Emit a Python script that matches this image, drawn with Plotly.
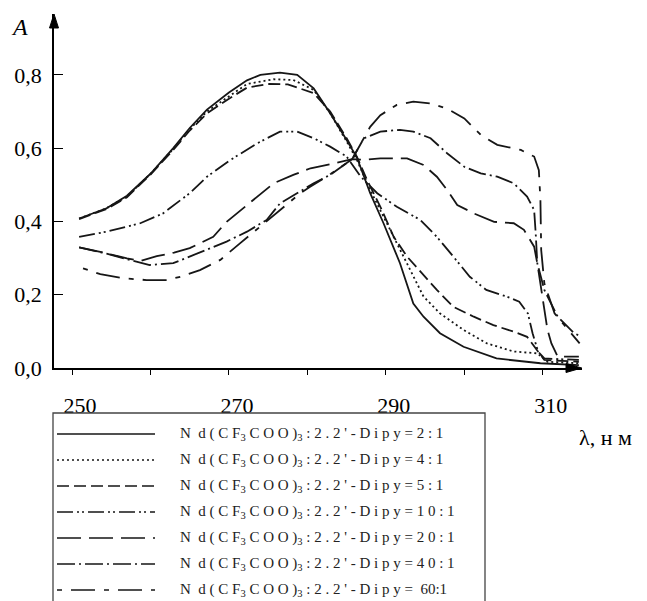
import plotly.graph_objects as go

# ---------------- data ----------------
lam_2 = [250.9, 254.4, 257.0, 260.0, 262.9, 265.0, 267.2, 270.0, 272.3, 274.0, 276.5, 278.7, 280.8,
         282.9, 285.0, 286.3, 288.0, 289.7, 291.8, 293.5, 294.8, 296.9, 299.9, 304.1, 309.7, 314.6]
A_2 = [0.408, 0.436, 0.470, 0.530, 0.600, 0.655, 0.705, 0.752, 0.785, 0.800, 0.806, 0.800, 0.763,
       0.695, 0.622, 0.575, 0.477, 0.395, 0.286, 0.176, 0.140, 0.095, 0.058, 0.026, 0.013, 0.008]

lam_4 = [250.9, 254.4, 257.0, 260.0, 262.9, 265.0, 267.2, 270.0, 272.3, 275.7, 278.2, 280.8, 282.9,
         285.0, 286.3, 288.0, 289.7, 291.4, 293.1, 294.8, 296.9, 299.9, 302.9, 306.3, 309.3, 310.6, 314.6]
A_4 = [0.408, 0.436, 0.468, 0.530, 0.598, 0.652, 0.700, 0.742, 0.775, 0.788, 0.786, 0.759, 0.695,
       0.618, 0.568, 0.486, 0.413, 0.340, 0.267, 0.195, 0.149, 0.104, 0.067, 0.045, 0.040, 0.017, 0.013]

lam_5 = [250.9, 254.4, 257.0, 260.0, 262.9, 265.0, 267.2, 270.0, 272.3, 275.0, 277.5, 280.8, 282.9,
         285.0, 286.3, 287.6, 289.3, 291.0, 292.7, 294.4, 296.5, 298.6, 301.2, 303.7, 306.3, 308.0,
         309.3, 310.2, 314.6]
A_5 = [0.406, 0.434, 0.466, 0.528, 0.595, 0.648, 0.695, 0.735, 0.765, 0.775, 0.774, 0.750, 0.700,
       0.627, 0.577, 0.513, 0.440, 0.358, 0.304, 0.263, 0.213, 0.167, 0.140, 0.117, 0.099, 0.085,
       0.049, 0.022, 0.017]

lam_10 = [250.9, 254.4, 258.7, 261.6, 265.0, 267.2, 270.2, 273.6, 276.5, 278.7, 280.8, 282.9, 285.0,
          286.8, 288.9, 291.4, 294.4, 296.5, 298.6, 300.7, 302.8, 305.4, 307.0, 308.1, 308.7, 309.4,
          310.2, 314.6]
A_10 = [0.358, 0.372, 0.395, 0.422, 0.477, 0.522, 0.568, 0.613, 0.645, 0.645, 0.627, 0.604, 0.577,
        0.522, 0.477, 0.440, 0.404, 0.358, 0.304, 0.249, 0.213, 0.195, 0.181, 0.149, 0.095, 0.045,
        0.026, 0.022]

lam_20 = [250.9, 254.4, 257.0, 258.7, 260.8, 263.0, 265.0, 268.0, 269.7, 272.3, 275.7, 278.2, 280.4,
          282.9, 285.7, 287.2, 289.3, 292.7, 294.8, 296.5, 297.8, 299.1, 301.2, 303.8, 306.3, 307.6,
          308.9, 309.3, 309.7, 310.2, 310.6, 311.1, 311.9, 314.6]
A_20 = [0.329, 0.313, 0.299, 0.292, 0.305, 0.315, 0.327, 0.358, 0.399, 0.445, 0.504, 0.527, 0.545,
        0.556, 0.570, 0.568, 0.572, 0.572, 0.554, 0.522, 0.486, 0.445, 0.422, 0.399, 0.395, 0.377,
        0.331, 0.286, 0.231, 0.158, 0.104, 0.067, 0.031, 0.031]

lam_40 = [250.9, 254.4, 257.0, 259.9, 262.9, 265.0, 267.2, 269.7, 272.3, 274.8, 276.5, 278.7, 280.8,
          282.9, 285.7, 287.2, 289.3, 291.8, 293.5, 295.7, 297.8, 300.0, 302.1, 304.2, 306.3, 308.0,
          308.9, 309.1, 309.3, 310.2, 311.9, 314.0, 314.7]
A_40 = [0.329, 0.312, 0.297, 0.281, 0.286, 0.304, 0.322, 0.345, 0.372, 0.404, 0.449, 0.477, 0.504,
        0.527, 0.570, 0.627, 0.645, 0.650, 0.645, 0.627, 0.586, 0.549, 0.531, 0.522, 0.504, 0.468,
        0.431, 0.367, 0.286, 0.213, 0.140, 0.095, 0.088]

lam_60 = [251.4, 253.6, 256.5, 259.5, 262.1, 263.8, 266.3, 268.9, 271.4, 274.0, 276.5, 279.1, 280.4,
          283.0, 285.7, 286.8, 288.0, 289.3, 291.4, 293.5, 295.7, 297.8, 300.0, 302.1, 304.2, 307.2,
          308.9, 309.5, 309.7, 309.8, 310.2, 311.5, 313.2, 314.7]
A_60 = [0.272, 0.256, 0.245, 0.240, 0.240, 0.249, 0.267, 0.295, 0.340, 0.386, 0.431, 0.477, 0.495,
        0.530, 0.570, 0.613, 0.658, 0.690, 0.718, 0.727, 0.722, 0.708, 0.681, 0.636, 0.609, 0.595,
        0.577, 0.540, 0.458, 0.322, 0.231, 0.149, 0.104, 0.067]

ratios = ["2:1", "4:1", "5:1", "10:1", "20:1", "40:1", "60:1"]
series_lam = [lam_2, lam_4, lam_5, lam_10, lam_20, lam_40, lam_60]
series_A = [A_2, A_4, A_5, A_10, A_20, A_40, A_60]

x_tickvals = [250, 260, 270, 280, 290, 300, 310]
x_ticktext = ["250", "", "270", "", "290", "", "310"]
y_tickvals = [0.0, 0.2, 0.4, 0.6, 0.8]
y_ticktext = ["0,0", "0,2", "0,4", "0,6", "0,8"]

# ---------------- styling ----------------
dashes = ["solid", "2px,3px", "12px,5px", "16px,4px,2px,3px,2px,4px",
          "24px,8px", "18px,4px,2px,4px", "5px,9px,24px,9px"]
LINE_COLOR = "#161616"
W, H = 647, 601
ML, MR, MT, MB = 54, 65, 14, 233
PW, PH = W - ML - MR, H - MT - MB
SERIF = "Liberation Serif"


def px(xp):
    return (xp - ML) / PW


def py(yp):
    return (H - MB - yp) / PH


fig = go.Figure()
for lam, A, d, r in zip(series_lam, series_A, dashes, ratios):
    fig.add_trace(go.Scatter(x=lam, y=A, mode="lines", name=r,
                             line=dict(color=LINE_COLOR, width=1.8, dash=d),
                             showlegend=False))

shapes = []
annotations = []

# axis arrowheads
shapes.append(dict(type="path", xref="paper", yref="paper",
                   path=f"M {px(581.7)} {py(368)} L {px(566)} {py(363.5)} L {px(566)} {py(372.5)} Z",
                   fillcolor="black", line=dict(color="black", width=1)))
shapes.append(dict(type="path", xref="paper", yref="paper",
                   path=f"M {px(54)} {py(14)} L {px(49.5)} {py(28)} L {px(58.5)} {py(28)} Z",
                   fillcolor="black", line=dict(color="black", width=1)))

# legend box (continues past the bottom of the picture)
shapes.append(dict(type="rect", xref="paper", yref="paper",
                   x0=px(53), x1=px(485), y0=py(640), y1=py(413),
                   line=dict(color="#444444", width=1.3), fillcolor="rgba(0,0,0,0)"))


def spaced(s):
    return " ".join(list(s))


for i, (r, d) in enumerate(zip(ratios, dashes)):
    yrow = 434 + 26 * i
    shapes.append(dict(type="line", xref="paper", yref="paper",
                       x0=px(57), x1=px(155), y0=py(yrow), y1=py(yrow),
                       line=dict(color=LINE_COLOR, width=1.6, dash=d)))
    if r == "60:1":
        ratio_txt = " " + r
    else:
        ratio_txt = spaced(r)
    txt = ("N  d ( C F<sub>3</sub> C O O )<sub>3</sub> : 2 . 2 ' - D i p y = " + ratio_txt)
    annotations.append(dict(x=px(178), y=py(yrow), xref="paper", yref="paper",
                            text=txt, showarrow=False, xanchor="left", yanchor="middle",
                            font=dict(family=SERIF, size=15, color="#222222")))

# axis titles
annotations.append(dict(x=px(19), y=py(27), xref="paper", yref="paper", text="<i>A</i>",
                        showarrow=False, xanchor="center", yanchor="middle",
                        font=dict(family=SERIF, size=24, color="black")))
annotations.append(dict(x=px(577), y=py(437), xref="paper", yref="paper", text="λ, н м",
                        showarrow=False, xanchor="left", yanchor="middle",
                        font=dict(family=SERIF, size=22, color="black")))

fig.update_layout(
    width=W, height=H,
    margin=dict(l=ML, r=MR, t=MT, b=MB, pad=0),
    paper_bgcolor="white", plot_bgcolor="white",
    shapes=shapes, annotations=annotations,
    font=dict(family=SERIF, color="black"),
    xaxis=dict(range=[247.7, 315.0], showgrid=False, zeroline=False,
               showline=True, linecolor="black", linewidth=1.5,
               tickmode="array", tickvals=x_tickvals, ticktext=x_ticktext,
               ticks="outside", ticklen=5, tickwidth=1.3, tickcolor="black",
               ticklabelshift=8, ticklabelstandoff=12,
               tickfont=dict(family=SERIF, size=22, color="black")),
    yaxis=dict(range=[0.0, 0.966], showgrid=False, zeroline=False,
               showline=True, linecolor="black", linewidth=1.5,
               tickmode="array", tickvals=y_tickvals, ticktext=y_ticktext,
               ticks="inside", ticklen=9, tickwidth=1.3, tickcolor="black",
               ticklabelstandoff=6,
               tickfont=dict(family=SERIF, size=22, color="black")),
)

fig.write_html("out.html")
